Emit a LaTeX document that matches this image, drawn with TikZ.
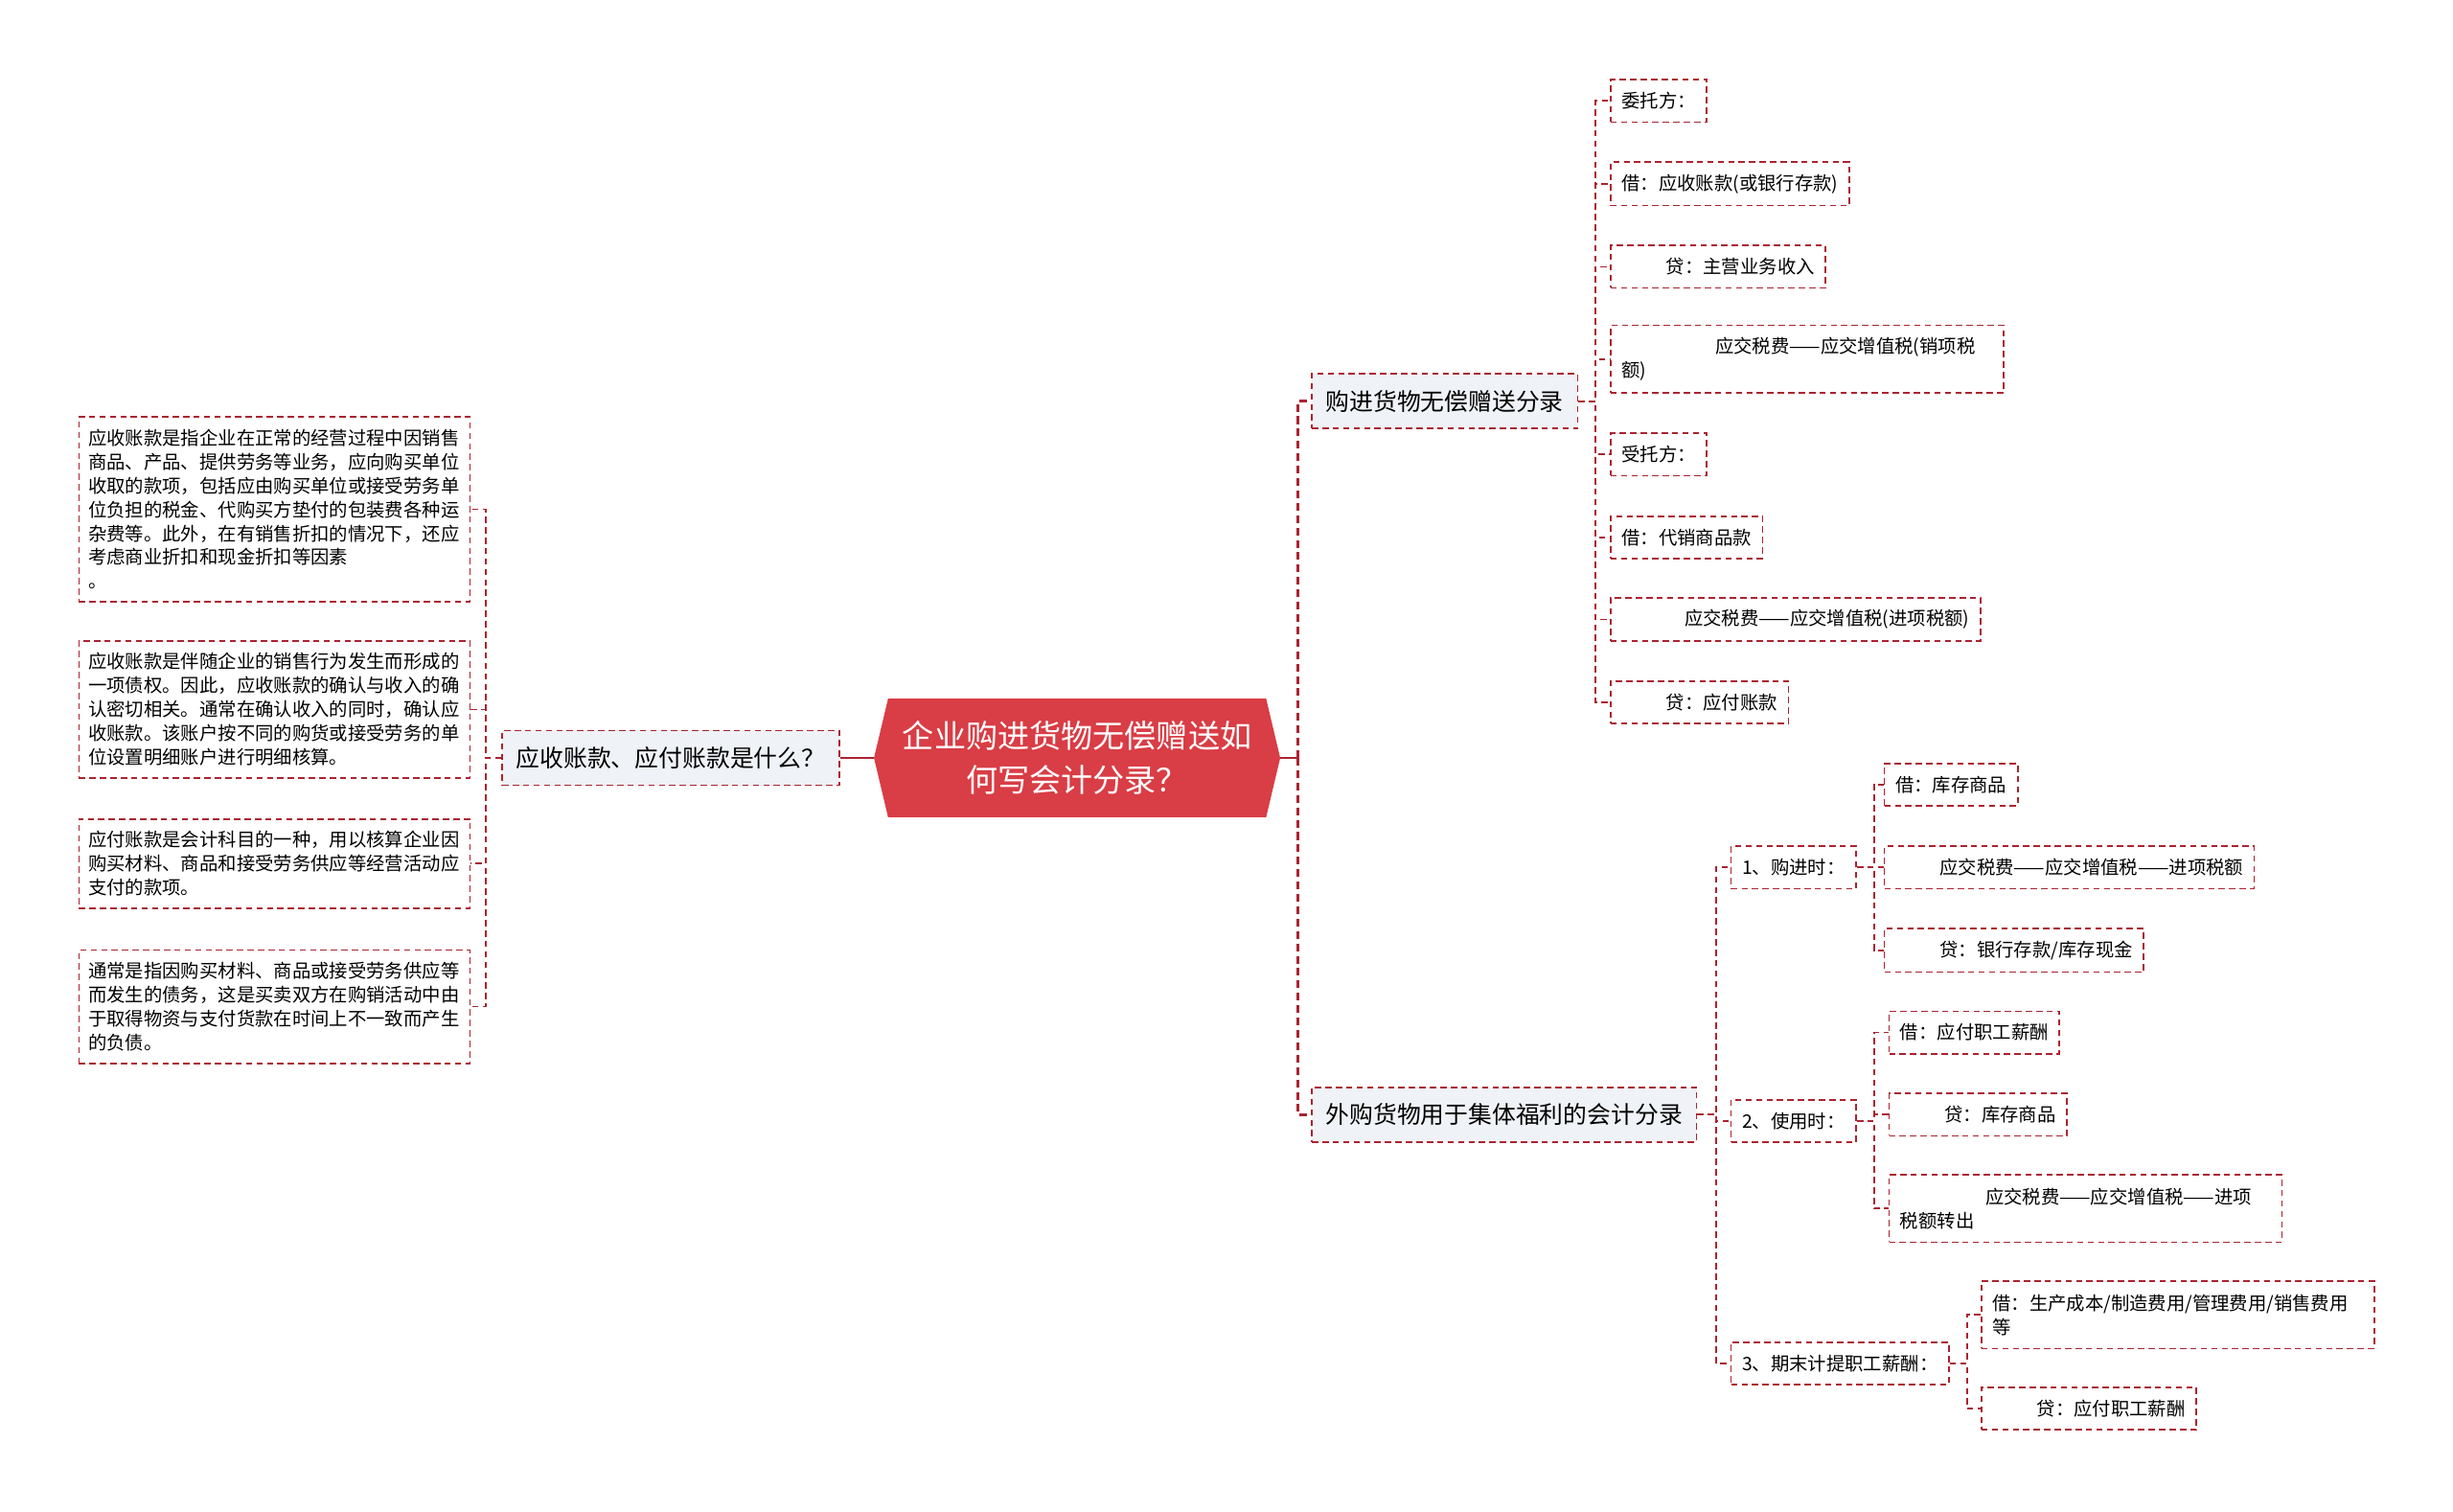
\documentclass[tikz,border=0pt]{standalone}
\usepackage{fontspec}
\setmainfont{Noto Sans CJK SC}
\usetikzlibrary{backgrounds}
\definecolor{mapred}{RGB}{170,35,48}
\definecolor{rootred}{RGB}{217,61,69}
\definecolor{topicbg}{RGB}{239,242,246}

\begin{document}
\begin{tikzpicture}[
    x=0.02cm, y=-0.02cm,
    rootnode/.style={minimum width=147.4pt, minimum height=42.7pt, inner sep=0pt, align=center, text=white, font=\fontsize{11.55pt}{15.9pt}\selectfont},
    topic/.style={draw=mapred, fill=topicbg, line width=0.6pt, dash pattern=on 2.3pt off 1.5pt, inner xsep=5.1pt, minimum height=19.9pt, font=\fontsize{8.65pt}{10pt}\selectfont},
    leaf/.style={draw=mapred, fill=white, line width=0.6pt, dash pattern=on 2.3pt off 1.5pt, inner xsep=4pt, inner ysep=4.4pt, minimum height=15.4pt, align=left, font=\fontsize{6.75pt}{8.7pt}\selectfont},
    wrapleaf/.style={leaf, text width=134.9pt, minimum height=24.5pt},
    note/.style={leaf, inner xsep=3.4pt, text width=135.5pt},
    rootlink/.style={draw=mapred, line width=0.9pt},
    trunk/.style={draw=mapred, line width=1.05pt, dash pattern=on 2.8pt off 1.7pt},
    twig/.style={draw=mapred, line width=0.6pt, dash pattern=on 2.3pt off 1.5pt}
]
    \useasboundingbox (0,0) rectangle (1568,966);

    % Root
    \node[rootnode] (root) at (688.5,484.5) {企业购进货物无偿赠送如\\何写会计分录？};
    \begin{scope}[on background layer]
        \fill[rootred] ([xshift=0.18cm]root.north west) -- ([xshift=-0.18cm]root.north east) -- (root.east)
            -- ([xshift=-0.18cm]root.south east) -- ([xshift=0.18cm]root.south west) -- (root.west) -- cycle;
    \end{scope}

    % Left topic and notes
    \node[topic, anchor=east] (what) at (537,484.5) {应收账款、应付账款是什么？};
    \node[note, anchor=east] (recv) at (301,325.5) {应收账款是指企业在正常的经营过程中因销售\\商品、产品、提供劳务等业务，应向购买单位\\收取的款项，包括应由购买单位或接受劳务单\\位负担的税金、代购买方垫付的包装费各种运\\杂费等。此外，在有销售折扣的情况下，还应\\考虑商业折扣和现金折扣等因素\\。};
    \node[note, anchor=east] (claim) at (301,453.5) {应收账款是伴随企业的销售行为发生而形成的\\一项债权。因此，应收账款的确认与收入的确\\认密切相关。通常在确认收入的同时，确认应\\收账款。该账户按不同的购货或接受劳务的单\\位设置明细账户进行明细核算。};
    \node[note, anchor=east] (pay) at (301,552) {应付账款是会计科目的一种，用以核算企业因\\购买材料、商品和接受劳务供应等经营活动应\\支付的款项。};
    \node[note, anchor=east] (debt) at (301,643.5) {通常是指因购买材料、商品或接受劳务供应等\\而发生的债务，这是买卖双方在购销活动中由\\于取得物资与支付货款在时间上不一致而产生\\的负债。};

    % Right topics
    \node[topic, anchor=west] (gift) at (838,256.5) {购进货物无偿赠送分录};
    \node[topic, anchor=west] (welfare) at (838,712.5) {外购货物用于集体福利的会计分录};

    % Gift entries
    \node[leaf, anchor=west] (consignor) at (1029,64.5) {委托方：};
    \node[leaf, anchor=west] (cgdebit) at (1029,117.5) {借：应收账款(或银行存款)};
    \node[leaf, anchor=west] (cgcredit) at (1029,170.5) {\hspace*{2.4em}贷：主营业务收入};
    \node[wrapleaf, anchor=west] (cgtax) at (1029,229.5) {\hspace*{5.05em}应交税费——应交增值税(销项税\\额)};
    \node[leaf, anchor=west] (consignee) at (1029,290.5) {受托方：};
    \node[leaf, anchor=west] (cedebit) at (1029,343.5) {借：代销商品款};
    \node[leaf, anchor=west] (cetax) at (1029,396) {\hspace*{3.4em}应交税费——应交增值税(进项税额)};
    \node[leaf, anchor=west] (cecredit) at (1029,449) {\hspace*{2.4em}贷：应付账款};

    % Welfare steps
    \node[leaf, anchor=west] (buy) at (1106,554.5) {1、购进时：};
    \node[leaf, anchor=west] (use) at (1106,716.5) {2、使用时：};
    \node[leaf, anchor=west] (accrue) at (1106,871.5) {3、期末计提职工薪酬：};

    \node[leaf, anchor=west] (buydebit) at (1204,501.5) {借：库存商品};
    \node[leaf, anchor=west] (buytax) at (1204,554.5) {\hspace*{2.4em}应交税费——应交增值税——进项税额};
    \node[leaf, anchor=west] (buycredit) at (1204,607.5) {\hspace*{2.4em}贷：银行存款/库存现金};

    \node[leaf, anchor=west] (usedebit) at (1207,660) {借：应付职工薪酬};
    \node[leaf, anchor=west] (usecredit) at (1207,712.5) {\hspace*{2.4em}贷：库存商品};
    \node[wrapleaf, anchor=west] (usetax) at (1207,772.5) {\hspace*{4.6em}应交税费——应交增值税——进项\\税额转出};

    \node[wrapleaf, anchor=west] (acdebit) at (1266,840.5) {借：生产成本/制造费用/管理费用/销售费用\\等};
    \node[leaf, anchor=west] (accredit) at (1266,900.5) {\hspace*{2.4em}贷：应付职工薪酬};

    % Root links
    \path (root.east) ++(11,0) coordinate (fork);
    \draw[rootlink] (root.west) -- (what.east);
    \draw[rootlink] (root.east) -- (fork);
    \draw[trunk] (fork) |- (gift.west);
    \draw[trunk] (fork) |- (welfare.west);

    % Left links
    \draw[twig] (what.west) -- ++(-10,0) |- (recv.east);
    \draw[twig] (what.west) -- ++(-10,0) |- (claim.east);
    \draw[twig] (what.west) -- ++(-10,0) |- (pay.east);
    \draw[twig] (what.west) -- ++(-10,0) |- (debt.east);

    % Gift links
    \draw[twig] (gift.east) -- ++(11,0) |- (consignor.west);
    \draw[twig] (gift.east) -- ++(11,0) |- (cgdebit.west);
    \draw[twig] (gift.east) -- ++(11,0) |- (cgcredit.west);
    \draw[twig] (gift.east) -- ++(11,0) |- (cgtax.west);
    \draw[twig] (gift.east) -- ++(11,0) |- (consignee.west);
    \draw[twig] (gift.east) -- ++(11,0) |- (cedebit.west);
    \draw[twig] (gift.east) -- ++(11,0) |- (cetax.west);
    \draw[twig] (gift.east) -- ++(11,0) |- (cecredit.west);

    % Welfare links
    \draw[twig] (welfare.east) -- ++(12,0) |- (buy.west);
    \draw[twig] (welfare.east) -- ++(12,0) |- (use.west);
    \draw[twig] (welfare.east) -- ++(12,0) |- (accrue.west);

    \draw[twig] (buy.east) -- ++(11,0) |- (buydebit.west);
    \draw[twig] (buy.east) -- ++(11,0) |- (buytax.west);
    \draw[twig] (buy.east) -- ++(11,0) |- (buycredit.west);

    \draw[twig] (use.east) -- ++(11,0) |- (usedebit.west);
    \draw[twig] (use.east) -- ++(11,0) |- (usecredit.west);
    \draw[twig] (use.east) -- ++(11,0) |- (usetax.west);

    \draw[twig] (accrue.east) -- ++(11,0) |- (acdebit.west);
    \draw[twig] (accrue.east) -- ++(11,0) |- (accredit.west);
\end{tikzpicture}
\end{document}
